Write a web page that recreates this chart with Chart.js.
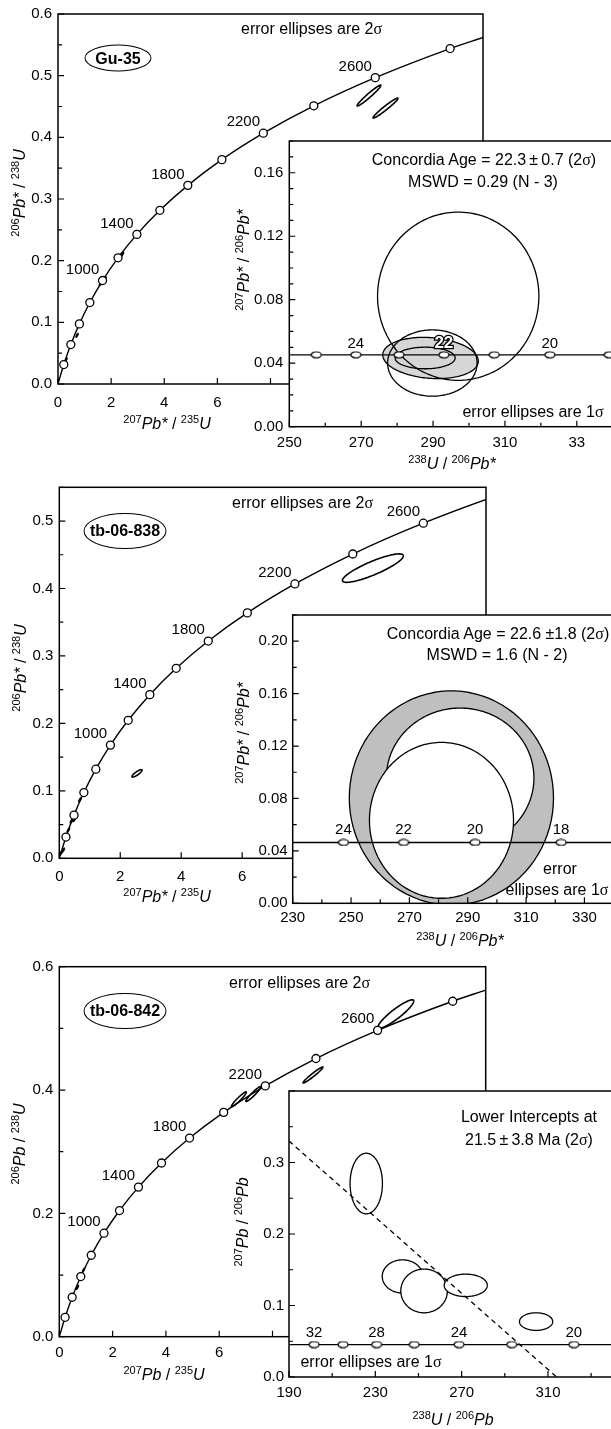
<!DOCTYPE html>
<html>
<head>
<meta charset="utf-8">
<title>U-Pb concordia diagrams</title>
<script src="https://cdn.jsdelivr.net/npm/chart.js@4.4.1/dist/chart.umd.min.js"></script>
<style>
  html, body { margin: 0; padding: 0; background: #fff; }
  body { position: relative; width: 611px; height: 1429px; overflow: hidden; font-family: 'Liberation Sans', Arial, sans-serif; color: #000; }
  canvas { position: absolute; }
  .t { position: absolute; white-space: nowrap; font-size: 16px; line-height: 16px; transform: translate(-50%, -50%); }
  .t.left { transform: translate(0, -50%); }
  .t.rot { transform: translate(-50%, -50%) rotate(-90deg); }
  .t sup { font-size: 11px; line-height: 0; vertical-align: 6px; }
  .sig { font-family: 'Liberation Serif', serif; }
  .tag { position: absolute; box-sizing: border-box; border: 1.5px solid #000; border-radius: 50%; font-weight: bold; font-size: 16px; display: flex; align-items: center; justify-content: center; transform: translate(-50%, -50%); }
</style>
</head>
<body>
<div id="charts"></div>

<!-- Gu-35 -->
<div class="t left" style="left:241px;top:28.5px">error ellipses are 2<span class="sig">σ</span></div>
<div class="tag" style="left:118px;top:58px;width:67px;height:27px">Gu-35</div>
<div class="t rot" style="left:20px;top:193px"><sup>206</sup><i>Pb*</i> / <sup>238</sup><i>U</i></div>
<div class="t" style="left:167px;top:424px"><sup>207</sup><i>Pb*</i> / <sup>235</sup><i>U</i></div>
<div class="t" style="left:484px;top:160px">Concordia Age = 22.3&thinsp;±&thinsp;0.7 (2<span class="sig">σ</span>)</div>
<div class="t" style="left:483px;top:182px">MSWD = 0.29 (N - 3)</div>
<div class="t" style="left:533px;top:412px">error ellipses are 1<span class="sig">σ</span></div>
<div class="t rot" style="left:244px;top:260px"><sup>207</sup><i>Pb*</i> / <sup>206</sup><i>Pb*</i></div>
<div class="t" style="left:452px;top:464px"><sup>238</sup><i>U</i> / <sup>206</sup><i>Pb*</i></div>

<!-- tb-06-838 -->
<div class="t left" style="left:232px;top:503px">error ellipses are 2<span class="sig">σ</span></div>
<div class="tag" style="left:125px;top:531px;width:83px;height:36px">tb-06-838</div>
<div class="t rot" style="left:21px;top:668px"><sup>206</sup><i>Pb*</i> / <sup>238</sup><i>U</i></div>
<div class="t" style="left:167px;top:897px"><sup>207</sup><i>Pb*</i> / <sup>235</sup><i>U</i></div>
<div class="t" style="left:498px;top:634px">Concordia Age = 22.6 ±1.8 (2<span class="sig">σ</span>)</div>
<div class="t" style="left:497px;top:655px">MSWD = 1.6 (N - 2)</div>
<div class="t" style="left:560px;top:869px">error</div>
<div class="t" style="left:557px;top:890px">ellipses are 1<span class="sig">σ</span></div>
<div class="t rot" style="left:244px;top:733px"><sup>207</sup><i>Pb*</i> / <sup>206</sup><i>Pb*</i></div>
<div class="t" style="left:460px;top:941px"><sup>238</sup><i>U</i> / <sup>206</sup><i>Pb*</i></div>

<!-- tb-06-842 -->
<div class="t left" style="left:229px;top:983px">error ellipses are 2<span class="sig">σ</span></div>
<div class="tag" style="left:125px;top:1011px;width:83px;height:36px">tb-06-842</div>
<div class="t rot" style="left:20px;top:1144px"><sup>206</sup><i>Pb</i> / <sup>238</sup><i>U</i></div>
<div class="t" style="left:164px;top:1375px"><sup>207</sup><i>Pb</i> / <sup>235</sup><i>U</i></div>
<div class="t" style="left:529px;top:1117px">Lower Intercepts at</div>
<div class="t" style="left:529px;top:1140px">21.5&thinsp;±&thinsp;3.8 Ma (2<span class="sig">σ</span>)</div>
<div class="t" style="left:371px;top:1362px">error ellipses are 1<span class="sig">σ</span></div>
<div class="t rot" style="left:243px;top:1222px"><sup>207</sup><i>Pb</i> / <sup>206</sup><i>Pb</i></div>
<div class="t" style="left:453px;top:1420px"><sup>238</sup><i>U</i> / <sup>206</sup><i>Pb</i></div>

<script>
// concordia, 207Pb/235U vs 206Pb/238U, marked every 200 Ma
const concAges = [0, 200, 400, 600, 800, 1000, 1200, 1400, 1600, 1800, 2000, 2200, 2400, 2600, 2800]
const concX = [0, 0.218, 0.483, 0.806, 1.199, 1.677, 2.260, 2.970, 3.835, 4.887, 6.169, 7.730, 9.630, 11.944, 14.762]
const concY = [0, 0.0315, 0.0640, 0.0975, 0.1321, 0.1678, 0.2046, 0.2426, 0.2817, 0.3221, 0.3638, 0.4067, 0.4511, 0.4968, 0.5440]
const concTail = [16.0, 0.562]
const labelledAges = [1000, 1400, 1800, 2200, 2600]

// analyses as error ellipses: [x, y, sx, sy, rho]
const gu35Main = [
  [11.71, 0.4678, 0.45, 0.0170, 0.97],
  [12.33, 0.4475, 0.47, 0.0162, 0.97],
  [1.65, 0.1650, 0.09, 0.0050, 0.90],
  [1.72, 0.1685, 0.09, 0.0050, 0.90],
  [2.30, 0.2050, 0.10, 0.0055, 0.90],
  [2.37, 0.2085, 0.10, 0.0055, 0.90],
  [0.72, 0.0790, 0.04, 0.0030, 0.90],
  [0.30, 0.0390, 0.04, 0.0030, 0.90],
]
const tb838Main = [
  [10.29, 0.4302, 1.00, 0.0211, 0.86],
  [2.55, 0.1259, 0.165, 0.0055, 0.85],
  [0.41, 0.0560, 0.05, 0.0035, 0.90],
  [0.50, 0.0580, 0.05, 0.0035, 0.90],
  [0.30, 0.0420, 0.04, 0.0030, 0.90],
  [0.68, 0.0870, 0.04, 0.0030, 0.90],
  [0.06, 0.0080, 0.04, 0.0030, 0.90],
  [0.13, 0.0120, 0.04, 0.0030, 0.90],
]
const tb842Main = [
  [12.63, 0.5233, 0.67, 0.0230, 0.91],
  [9.52, 0.4244, 0.375, 0.0130, 0.97],
  [6.74, 0.3850, 0.28, 0.0120, 0.95],
  [7.28, 0.3935, 0.28, 0.0120, 0.95],
  [0.91, 0.1080, 0.04, 0.0030, 0.90],
  [0.68, 0.0800, 0.04, 0.0030, 0.90],
]

// Tera-Wasserburg insets, 238U/206Pb vs 207Pb/206Pb
const gu35Tw = [
  [289.3, 0.0433, 13.3, 0.0130, -0.15],
  [297.0, 0.0822, 22.45, 0.0530, 0],
  [289.8, 0.0401, 12.45, 0.0209, 0],
  [287.8, 0.0433, 8.35, 0.0068, 0],
]
const gu35TwMarkX = [257.5, 268.5, 280.5, 293, 307, 322.5, 339]
const gu35TwMarkLabel = ['', '24', '', '22', '', '20', '']
const gu35TwY = 0.0453
const gu35ConcAge = '22'

const tb838Tw = [
  [284.4, 0.0804, 35.0, 0.0817, 0],
  [287.4, 0.0957, 25.3, 0.0533, 0],
  [281.0, 0.0633, 24.7, 0.0595, 0],
]
const tb838TwMarkX = [247.4, 268, 292.5, 322]
const tb838TwMarkLabel = ['24', '22', '20', '18']
const tb838TwY = 0.0464

const tb842Tw = [
  [225.8, 0.2706, 7.5, 0.0424, 0],
  [242.6, 0.1407, 9.4, 0.0232, 0],
  [252.6, 0.1204, 10.8, 0.0306, 0],
  [271.9, 0.1282, 10.0, 0.0157, 0],
  [304.5, 0.0775, 7.7, 0.0123, 0],
]
const tb842TwMarkX = [201.6, 215, 230.6, 248, 268.8, 293.2, 322]
const tb842TwMarkLabel = ['32', '', '28', '', '24', '', '20']
const tb842TwY = 0.0454
const tb842Discordia = [[190, 0.330], [314, 0.0]]

const FONT = '"Liberation Sans", Arial, sans-serif'

const range = (a, b, s) => {
  const out = []
  for (let i = 0; a + i * s <= b + 1e-9; i++) out.push(+(a + i * s).toFixed(6))
  return out
}

function ellipseSet(e, fillColor, width) {
  const [cx, cy, sx, sy, r] = e
  const pts = []
  for (let k = 0; k <= 90; k++) {
    const a = (k * Math.PI) / 45
    pts.push({ x: cx + sx * Math.cos(a), y: cy + sy * (r * Math.cos(a) + Math.sqrt(1 - r * r) * Math.sin(a)) })
  }
  return {
    data: pts,
    showLine: true,
    pointRadius: 0,
    // a tiny tension keeps chart.js off its x-sorted fast path, which flattens closed shapes
    tension: 0.001,
    borderColor: '#000',
    borderWidth: width || 1.3,
    fill: fillColor ? 'shape' : false,
    backgroundColor: fillColor || 'rgba(0,0,0,0)',
  }
}

function ovalImage(w, h) {
  const c = document.createElement('canvas')
  c.width = w + 2
  c.height = h + 2
  const g = c.getContext('2d')
  g.beginPath()
  g.ellipse(c.width / 2, c.height / 2, w / 2, h / 2, 0, 0, Math.PI * 2)
  g.fillStyle = '#fff'
  g.fill()
  g.lineWidth = 1.2
  g.strokeStyle = '#000'
  g.stroke()
  return c
}

function framePlugin(xAx, yAx, opt) {
  const isMajor = (v, ax) => {
    const q = (v - ax.min) / ax.major
    return Math.abs(q - Math.round(q)) < 1e-6
  }
  return {
    id: 'frame',
    beforeDraw(chart) {
      if (!opt.white) return
      const { ctx, chartArea: a } = chart
      ctx.save()
      ctx.fillStyle = '#fff'
      ctx.fillRect(a.left, a.top, a.width, a.height)
      ctx.restore()
    },
    afterDatasetsDraw(chart) {
      const { ctx, chartArea: a, scales } = chart
      const { x, y } = scales
      ctx.save()
      ctx.strokeStyle = '#000'
      ctx.lineWidth = 1.2
      ctx.beginPath()
      x.ticks.forEach((t) => {
        const p = x.getPixelForValue(t.value)
        ctx.moveTo(p, a.bottom)
        ctx.lineTo(p, a.bottom - (isMajor(t.value, xAx) ? 6 : 4))
      })
      y.ticks.forEach((t) => {
        const p = y.getPixelForValue(t.value)
        ctx.moveTo(a.left, p)
        ctx.lineTo(a.left + (isMajor(t.value, yAx) ? 6 : 4), p)
      })
      ctx.stroke()
      ctx.lineWidth = 1.5
      ctx.strokeRect(a.left, a.top, a.width, a.height)

      ctx.fillStyle = '#000'
      ctx.font = '15px ' + FONT
      ctx.textBaseline = 'middle'
      ctx.textAlign = 'center'
      x.ticks.forEach((t) => {
        if (!isMajor(t.value, xAx)) return
        const s = xAx.label(t.value)
        if (s) ctx.fillText(s, x.getPixelForValue(t.value), a.bottom + xAx.gap)
      })
      ctx.textAlign = 'right'
      y.ticks.forEach((t) => {
        if (!isMajor(t.value, yAx)) return
        const s = yAx.label(t.value)
        if (s) ctx.fillText(s, a.left - yAx.gap, y.getPixelForValue(t.value))
      })

      ctx.textAlign = 'center'
      ;(opt.marks || []).forEach((m) => {
        const px = x.getPixelForValue(m.x) + m.dx
        const py = y.getPixelForValue(m.y) + m.dy
        if (m.outline) {
          ctx.font = 'bold 17px ' + FONT
          ctx.lineWidth = 2.6
          ctx.strokeText(m.text, px, py)
          ctx.fillStyle = '#fff'
          ctx.fillText(m.text, px, py)
          ctx.fillStyle = '#000'
          ctx.font = '15px ' + FONT
        } else {
          ctx.fillText(m.text, px, py)
        }
      })
      ctx.restore()
    },
  }
}

function addChart(box, area, xAx, yAx, datasets, opt) {
  const cv = document.createElement('canvas')
  cv.width = box.w
  cv.height = box.h
  cv.style.left = box.x + 'px'
  cv.style.top = box.y + 'px'
  document.getElementById('charts').appendChild(cv)
  // first in the list is drawn first (at the back)
  datasets.forEach((d, i) => { d.order = datasets.length - i })
  const scale = (ax, fit) => ({
    type: 'linear',
    min: ax.min,
    max: ax.max,
    ticks: { display: false },
    afterBuildTicks: (s) => { s.ticks = range(ax.min, ax.max, ax.step).map((v) => ({ value: v })) },
    grid: { display: false },
    border: { display: false },
    afterFit: fit,
  })
  return new Chart(cv, {
    type: 'scatter',
    data: { datasets },
    options: {
      responsive: false,
      animation: false,
      events: [],
      layout: { padding: { left: 0, top: area.t - box.y, right: box.x + box.w - area.r, bottom: 0 } },
      scales: {
        x: scale(xAx, (s) => { s.height = box.y + box.h - area.b }),
        y: scale(yAx, (s) => { s.width = area.l - box.x }),
      },
      plugins: { legend: { display: false }, tooltip: { enabled: false } },
    },
    plugins: [framePlugin(xAx, yAx, opt)],
  })
}

const curvePts = concX.map((x, i) => ({ x, y: concY[i] })).concat([{ x: concTail[0], y: concTail[1] }])
const markerPts = concX.slice(1).map((x, i) => ({ x, y: concY[i + 1] }))
const ageMarks = labelledAges.map((age) => {
  const i = concAges.indexOf(age)
  return { x: concX[i], y: concY[i], text: String(age), dx: -20, dy: -11 }
})

function mainSets(ellipses) {
  const sets = ellipses.map((e) => ellipseSet(e, null, 1.6))
  sets.push({ data: curvePts, showLine: true, pointRadius: 0, borderColor: '#000', borderWidth: 1.4, cubicInterpolationMode: 'monotone' })
  sets.push({ data: markerPts, showLine: false, pointRadius: 4, pointBackgroundColor: '#fff', pointBorderColor: '#000', pointBorderWidth: 1.3 })
  return sets
}

function twSets(ellipses, fills, xAx, lineY, markX, extra) {
  const sets = ellipses.map((e, i) => ellipseSet(e, fills[i], 1.3))
  if (extra) sets.push(extra)
  sets.push({ data: [{ x: xAx.min, y: lineY }, { x: xAx.max, y: lineY }], showLine: true, pointRadius: 0, borderColor: '#000', borderWidth: 1.3 })
  sets.push({ data: markX.map((x) => ({ x, y: lineY })), showLine: false, pointRadius: 5, pointStyle: ovalImage(10, 6) })
  return sets
}

function twMarks(markX, labels, lineY, dy, highlight) {
  return markX
    .map((x, i) => ({ x, y: lineY, text: labels[i], dx: 0, dy, outline: labels[i] === highlight }))
    .filter((m) => m.text)
}

const mainX = { min: 0, max: 16, step: 2, major: 2, label: (v) => (v <= 6 ? String(v) : '') }

// ---------- Gu-35 ----------
addChart(
  { x: 0, y: 0, w: 500, h: 420 }, { l: 58, t: 14, r: 483, b: 384 },
  { ...mainX, gap: 18.5 },
  { min: 0, max: 0.6, step: 0.05, major: 0.1, label: (v) => v.toFixed(1), gap: 6 },
  mainSets(gu35Main), { marks: ageMarks }
)
const gu35X = { min: 250, max: 350, step: 10, major: 20, label: (v) => (v === 330 ? '33' : String(v)), gap: 16.5 }
addChart(
  { x: 232, y: 135, w: 430, h: 345 }, { l: 289.3, t: 139, r: 648.7, b: 426.7 },
  gu35X,
  { min: 0, max: 0.18, step: 0.01, major: 0.04, label: (v) => v.toFixed(2), gap: 6 },
  twSets(gu35Tw, ['#d6d6d6', null, null, null], gu35X, gu35TwY, gu35TwMarkX),
  { white: true, marks: twMarks(gu35TwMarkX, gu35TwMarkLabel, gu35TwY, -11, gu35ConcAge) }
)

// ---------- tb-06-838 ----------
addChart(
  { x: 0, y: 470, w: 500, h: 420 }, { l: 59.3, t: 487.3, r: 486, b: 858.3 },
  { ...mainX, max: 14, gap: 19 },
  { min: 0, max: 0.55, step: 0.05, major: 0.1, label: (v) => v.toFixed(1), gap: 6 },
  mainSets(tb838Main), { marks: ageMarks }
)
const tb838X = { min: 230, max: 340, step: 10, major: 20, label: (v) => String(v), gap: 15 }
addChart(
  { x: 235, y: 609, w: 390, h: 340 }, { l: 292.7, t: 613.3, r: 613.6, b: 903.3 },
  tb838X,
  { min: 0, max: 0.22, step: 0.02, major: 0.04, label: (v) => v.toFixed(2), gap: 5 },
  twSets(tb838Tw, ['#bfbfbf', '#fff', '#fff'], tb838X, tb838TwY, tb838TwMarkX),
  { white: true, marks: twMarks(tb838TwMarkX, tb838TwMarkLabel, tb838TwY, -13) }
)

// ---------- tb-06-842 ----------
addChart(
  { x: 0, y: 950, w: 500, h: 420 }, { l: 59.3, t: 966.7, r: 485.7, b: 1336.7 },
  { ...mainX, gap: 16 },
  { min: 0, max: 0.6, step: 0.1, major: 0.2, label: (v) => v.toFixed(1), gap: 6 },
  mainSets(tb842Main), { marks: ageMarks }
)
const tb842X = { min: 190, max: 340, step: 20, major: 40, label: (v) => String(v), gap: 16.3 }
const discordiaSet = {
  data: tb842Discordia.map(([x, y]) => ({ x, y })),
  showLine: true, pointRadius: 0, borderColor: '#000', borderWidth: 1.3, borderDash: [5, 4],
}
addChart(
  { x: 232, y: 1085, w: 395, h: 344 }, { l: 289, t: 1089.3, r: 612.7, b: 1377 },
  tb842X,
  { min: 0, max: 0.4, step: 0.05, major: 0.1, label: (v) => (v < 0.35 ? v.toFixed(1) : ''), gap: 5 },
  twSets(tb842Tw, ['#fff', '#fff', '#fff', '#fff', '#fff'], tb842X, tb842TwY, tb842TwMarkX, discordiaSet),
  { white: true, marks: twMarks(tb842TwMarkX, tb842TwMarkLabel, tb842TwY, -11.5) }
)
</script>
</body>
</html>
